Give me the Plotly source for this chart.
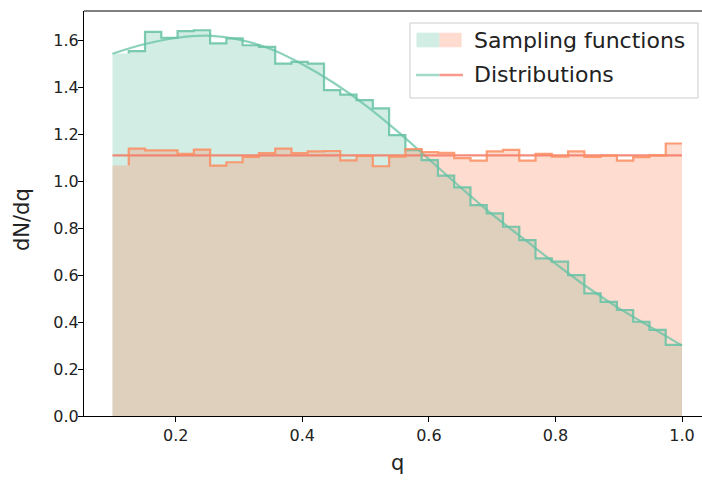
import numpy as np
import plotly.graph_objects as go

# ---- data ----
q_min, q_max, n_bins = 0.1, 1.0, 35

# histogram of samples drawn with the green sampling function
green_hist = [1.546, 1.556, 1.638, 1.613, 1.641, 1.645, 1.589, 1.610, 1.581, 1.574,
              1.503, 1.510, 1.503, 1.390, 1.370, 1.347, 1.312, 1.198, 1.134, 1.091,
              1.025, 0.975, 0.899, 0.864, 0.807, 0.750, 0.672, 0.658, 0.601, 0.523,
              0.487, 0.452, 0.402, 0.367, 0.303]
# histogram of samples drawn with the orange (flat) sampling function
orange_hist = [1.068, 1.140, 1.133, 1.133, 1.118, 1.136, 1.068, 1.082, 1.105, 1.121,
               1.140, 1.121, 1.128, 1.130, 1.090, 1.109, 1.065, 1.106, 1.138, 1.125,
               1.122, 1.100, 1.089, 1.128, 1.135, 1.089, 1.118, 1.106, 1.128, 1.105,
               1.110, 1.089, 1.104, 1.111, 1.162]

# distributions (smooth curves)
green_dist_q = [0.10, 0.15, 0.20, 0.25, 0.30, 0.35, 0.40, 0.45, 0.50, 0.55,
                0.60, 0.65, 0.70, 0.75, 0.80, 0.85, 0.90, 0.95, 1.00]
green_dist_v = [1.545, 1.585, 1.612, 1.622, 1.605, 1.565, 1.500, 1.420, 1.325, 1.215,
                1.095, 0.975, 0.860, 0.755, 0.650, 0.550, 0.460, 0.380, 0.300]
orange_dist_q = [0.10, 1.00]
orange_dist_v = [1.111, 1.111]

x_ticks = [0.2, 0.4, 0.6, 0.8, 1.0]
y_ticks = [0.0, 0.2, 0.4, 0.6, 0.8, 1.0, 1.2, 1.4, 1.6]

# ---- styles ----
GREEN = (102, 194, 165)
ORANGE = (252, 141, 98)
def rgba(c, a):
    return f"rgba({c[0]},{c[1]},{c[2]},{a})"

edges = np.linspace(q_min, q_max, n_bins + 1)

fig = go.Figure()
# filled histograms (stepfilled)
for hist, col in ((green_hist, GREEN), (orange_hist, ORANGE)):
    fig.add_trace(go.Scatter(
        x=edges, y=list(hist) + [hist[-1]], mode="lines",
        line=dict(shape="hv", width=0), fill="tozeroy",
        fillcolor=rgba(col, 0.3), hoverinfo="skip", showlegend=False))

# distributions
fig.add_trace(go.Scatter(x=green_dist_q, y=green_dist_v, mode="lines",
                         line=dict(color=rgba(GREEN, 0.75), width=2.2, shape="spline"),
                         showlegend=False))
fig.add_trace(go.Scatter(x=orange_dist_q, y=orange_dist_v, mode="lines",
                         line=dict(color="rgba(243,120,100,0.85)", width=2.2),
                         showlegend=False))

# step outlines (matplotlib step where='pre' on right edges)
for hist, col in ((green_hist, GREEN), (orange_hist, ORANGE)):
    fig.add_trace(go.Scatter(x=edges[1:], y=hist, mode="lines",
                             line=dict(shape="vh", width=2.2, color=rgba(col, 0.85)),
                             showlegend=False))

# ---- layout ----
L, R, T, B = 84, 0, 11, 64
W, H = 702, 480
pw, ph = W - L - R, H - T - B
def px(xp):
    return (xp - L) / pw
def py(yp):
    return (H - B - yp) / ph

FONT = "DejaVu Sans"
shapes = []
annotations = []
# top spine (right spine is cut off in the reference)
shapes.append(dict(type="line", xref="paper", yref="paper", x0=0, x1=1, y0=1, y1=1,
                   line=dict(color="black", width=1)))
# legend box
shapes.append(dict(type="rect", xref="paper", yref="paper",
                   x0=px(410), x1=px(698), y0=py(98), y1=py(23),
                   line=dict(color="rgba(204,204,204,1)", width=1),
                   fillcolor="rgba(255,255,255,0.8)", layer="above"))
# sampling functions patch
shapes.append(dict(type="rect", xref="paper", yref="paper",
                   x0=px(416.5), x1=px(439.3), y0=py(47.3), y1=py(32.7),
                   line=dict(width=0), fillcolor=rgba(GREEN, 0.3), layer="above"))
shapes.append(dict(type="rect", xref="paper", yref="paper",
                   x0=px(439.3), x1=px(461.7), y0=py(47.3), y1=py(32.7),
                   line=dict(width=0), fillcolor=rgba(ORANGE, 0.3), layer="above"))
# distributions line
shapes.append(dict(type="line", xref="paper", yref="paper",
                   x0=px(416), x1=px(439.5), y0=py(75), y1=py(75),
                   line=dict(color=rgba(GREEN, 0.6), width=2.5), layer="above"))
shapes.append(dict(type="line", xref="paper", yref="paper",
                   x0=px(439.5), x1=px(463), y0=py(75), y1=py(75),
                   line=dict(color="rgba(243,120,100,0.75)", width=2.5), layer="above"))
annotations.append(dict(text="Sampling functions", xref="paper", yref="paper",
                        x=px(472), y=py(40), xanchor="left", yanchor="middle",
                        showarrow=False, font=dict(family=FONT, size=22, color="#222")))
annotations.append(dict(text="Distributions", xref="paper", yref="paper",
                        x=px(472), y=py(75), xanchor="left", yanchor="middle",
                        showarrow=False, font=dict(family=FONT, size=22, color="#222")))
# axis titles
annotations.append(dict(text="q", xref="paper", yref="paper",
                        x=px(397), y=py(463), xanchor="center", yanchor="middle",
                        showarrow=False, font=dict(family=FONT, size=21, color="#222")))
annotations.append(dict(text="dN/dq", xref="paper", yref="paper",
                        x=px(22), y=py(220), xanchor="center", yanchor="middle",
                        textangle=-90,
                        showarrow=False, font=dict(family=FONT, size=21, color="#222")))

fig.update_layout(
    width=W, height=H,
    margin=dict(l=L, r=R, t=T, b=B),
    paper_bgcolor="white", plot_bgcolor="white",
    font=dict(family=FONT, size=16, color="#222"),
    shapes=shapes, annotations=annotations,
    showlegend=False,
)
fig.update_xaxes(range=[0.055, 1.0316], tickvals=x_ticks,
                 ticktext=[f"{v:.1f}" for v in x_ticks],
                 showline=True, linecolor="black", linewidth=1, mirror=False,
                 ticks="outside", ticklen=5, tickcolor="black", showgrid=False,
                 zeroline=False)
fig.update_yaxes(range=[0, 1.727], tickvals=y_ticks,
                 ticktext=[f"{v:.1f}" for v in y_ticks],
                 showline=True, linecolor="black", linewidth=1, mirror=False,
                 ticks="outside", ticklen=5, tickcolor="black", showgrid=False,
                 ticklabelstandoff=-4, zeroline=False)

fig.write_html("out.html")
